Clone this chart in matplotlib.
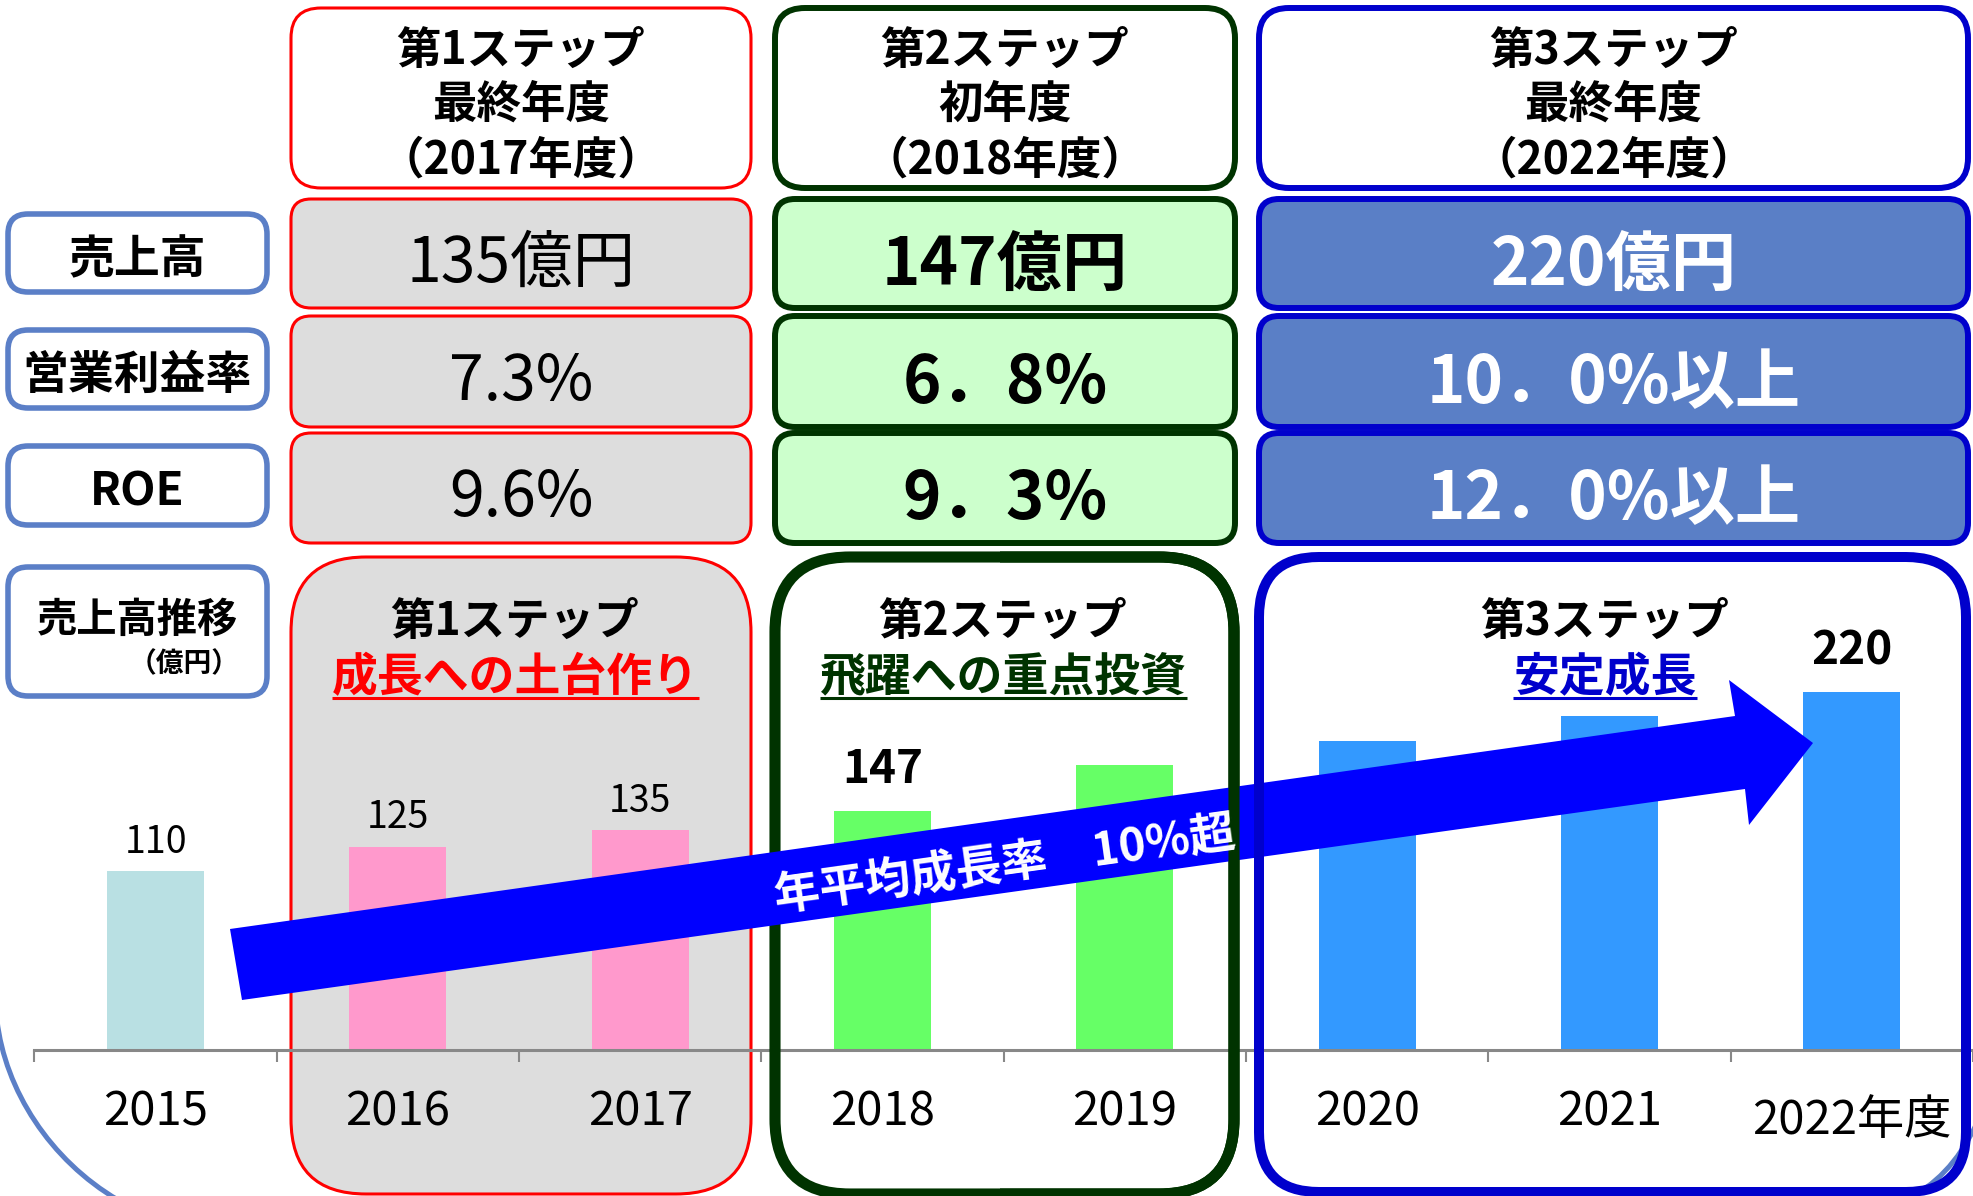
import matplotlib
matplotlib.use("Agg")
import matplotlib.pyplot as plt
from matplotlib.patches import FancyBboxPatch, Polygon, PathPatch, Rectangle
from matplotlib.path import Path
from matplotlib.transforms import blended_transform_factory

plt.rcParams['font.family'] = ['Noto Sans CJK JP', 'DejaVu Sans']

W, H = 1973, 1196

# --- data ---
years = ['2015', '2016', '2017', '2018', '2019', '2020', '2021', '2022年度']
sales = [110, 125, 135, 147, 175, 190, 205, 220]
sales_labels = ['110', '125', '135', '147', '', '', '', '220']

row_names = ['売上高', '営業利益率', 'ROE']
step_titles = [['第1ステップ', '最終年度', '（2017年度）'],
               ['第2ステップ', '初年度', '（2018年度）'],
               ['第3ステップ', '最終年度', '（2022年度）']]
step1_vals = ['135億円', '7.3%', '9.6%']
step2_vals = ['147億円', '6．8%', '9．3%']
step3_vals = ['220億円', '10．0%以上', '12．0%以上']
step_names = ['第1ステップ', '第2ステップ', '第3ステップ']
step_themes = ['成長への土台作り', '飛躍への重点投資', '安定成長']
growth_text = '年平均成長率　10%超'

# --- styles ---
bar_colors = ['#B9E0E3', '#FF99CC', '#FF99CC', '#66FF66', '#66FF66',
              '#3399FF', '#3399FF', '#3399FF']
big_years = ('2018', '2022年度')
edge_cols = ['#FF0000', '#003300', '#0000CC']
row_fills = ['#DDDDDD', '#CCFFCC', '#5A7FC6']
row_text = ['black', 'black', 'white']
label_blue = '#5B7FC7'

cols_x = [(291, 751), (775, 1235), (1259, 1968)]
rows_y = [(199, 308), (316, 427), (433, 543)]

fig = plt.figure(figsize=(W / 100, H / 100), dpi=100)

bg = fig.add_axes([0, 0, 1, 1])
bg.set_xlim(0, W)
bg.set_ylim(H, 0)
bg.axis('off')
bg.set_zorder(0)

fg = fig.add_axes([0, 0, 1, 1])
fg.set_xlim(0, W)
fg.set_ylim(H, 0)
fg.axis('off')
fg.set_zorder(2)
fg.patch.set_visible(False)


def rbox(ax, x0, x1, y0, y1, r, fc, ec, lw, z=1):
    p = FancyBboxPatch((x0, y0), x1 - x0, y1 - y0,
                       boxstyle='round,pad=0,rounding_size=%d' % r,
                       fc=fc, ec=ec, lw=lw, zorder=z)
    ax.add_patch(p)
    return p


# header and rows
hdr_lw = [2.2, 4.3, 4.3]
for c in range(3):
    x0, x1 = cols_x[c]
    rbox(bg, x0, x1, 8, 188, 30, 'white', edge_cols[c], hdr_lw[c])
    for r in range(3):
        y0, y1 = rows_y[r]
        rbox(bg, x0, x1, y0, y1, 20, row_fills[c], edge_cols[c], hdr_lw[c])

# left labels
for y0, y1 in [(214, 292), (330, 408), (446, 525), (567, 696)]:
    rbox(bg, 8, 267, y0, y1, 20, 'white', label_blue, 4)

# lower step regions
rbox(bg, 291, 751, 557, 1194, 75, '#DDDDDD', '#FF0000', 2.2)
rbox(fg, 775, 1234, 557, 1194, 75, 'none', '#003300', 8, z=1)
p2 = rbox(fg, 775, 1234, 557, 1194, 75, 'none', '#003300', 8, z=3)
p2.set_clip_path(Rectangle((1000, 0), 973, H, transform=fg.transData))
rbox(fg, 1259, 1966, 557, 1192, 60, 'none', '#0000CC', 7.2, z=3)

# decorative arcs
arc1 = Path([(-3, 1020), (5, 1090), (50, 1160), (118, 1200)],
            [Path.MOVETO, Path.CURVE4, Path.CURVE4, Path.CURVE4])
bg.add_patch(PathPatch(arc1, fc='none', ec=label_blue, lw=3.6))
arc2 = Path([(1905, 1200), (1935, 1186), (1958, 1162), (1976, 1125)],
            [Path.MOVETO, Path.CURVE4, Path.CURVE4, Path.CURVE4])
bg.add_patch(PathPatch(arc2, fc='none', ec=label_blue, lw=3.6))

# --- bar chart ---
px_per_unit = 1.627
base_y = 1050
left_x = 34.4
cat_w = 242.5
ymax = 300
axb = fig.add_axes([left_x / W, (H - base_y) / H, (W - left_x) / W,
                    ymax * px_per_unit / H])
axb.set_zorder(1)
axb.patch.set_visible(False)
xs = list(range(len(years)))
axb.bar(xs, sales, width=0.4, color=bar_colors, zorder=2)
axb.set_xlim(-0.5, (W - left_x) / cat_w - 0.5)
axb.set_ylim(0, ymax)
for s in ['top', 'right', 'left']:
    axb.spines[s].set_visible(False)
axb.spines['bottom'].set_color('#888888')
axb.spines['bottom'].set_linewidth(2.2)
axb.set_yticks([])
axb.set_xticks(xs)
axb.set_xticklabels([])
axb.tick_params(axis='x', which='major', length=0)
axb.set_xticks([i - 0.5 for i in range(len(years) + 1)], minor=True)
axb.tick_params(axis='x', which='minor', length=8.5, width=1.5,
                color='#888888')

tl = blended_transform_factory(axb.transData, fg.transData)
for i, lab in enumerate(years):
    yb = 1134 if '年' in lab else 1126
    axb.text(i, yb, lab, transform=tl, ha='center', va='baseline',
             fontsize=34, color='black', clip_on=False)

for i, (v, lab) in enumerate(zip(sales, sales_labels)):
    if not lab:
        continue
    if years[i] in big_years:
        axb.annotate(lab, (i, v), xytext=(0, 41), textcoords='offset pixels',
                     ha='center', va='center', fontsize=33, fontweight='bold')
    else:
        axb.annotate(lab, (i, v), xytext=(0, 29), textcoords='offset pixels',
                     ha='center', va='center', fontsize=27)

# --- arrow ---
arrow_pts = [(230, 929), (1735, 716), (1729, 680), (1813, 743),
             (1749, 825), (1745, 789), (242, 1000)]
fg.add_patch(Polygon(arrow_pts, closed=True, fc='#0000FF', ec='none', zorder=2))
fg.text(1005, 866, growth_text, rotation=8, rotation_mode='anchor',
        ha='center', va='center', fontsize=33, fontweight='bold',
        color='white', zorder=4)

# --- texts ---
dy = 4
hdr_y = [47, 101, 157]
for c in range(3):
    xc = sum(cols_x[c]) / 2
    for line, y in zip(step_titles[c], hdr_y):
        fg.text(xc, y + dy, line, ha='center', va='center', fontsize=32,
                fontweight='bold', zorder=5)

val_y = [260, 378, 494]
for c, vals in enumerate([step1_vals, step2_vals, step3_vals]):
    xc = sum(cols_x[c]) / 2
    for r, v in enumerate(vals):
        if c == 0:
            fg.text(xc, val_y[r] + dy, v, ha='center', va='center',
                    fontsize=45, color=row_text[c], zorder=5)
        else:
            fg.text(xc, val_y[r] + dy + 2, v, ha='center', va='center',
                    fontsize=47, fontweight='bold', color=row_text[c],
                    zorder=5)

for name, y in zip(row_names, [256, 372, 488]):
    fg.text(137, y + dy, name, ha='center', va='center', fontsize=33,
            fontweight='bold', zorder=5)
fg.text(137, 616 + dy, '売上高推移', ha='center', va='center', fontsize=29,
        fontweight='bold', zorder=5)
fg.text(240, 660 + dy, '（億円）', ha='right', va='center', fontsize=20,
        fontweight='bold', zorder=5)

step_xc = [515, 1003, 1605]
theme_texts = []
for c in range(3):
    fg.text(step_xc[c], 618 + dy, step_names[c], ha='center', va='center',
            fontsize=32, fontweight='bold', zorder=5)
    t = fg.text(step_xc[c], 674 + dy, step_themes[c], ha='center',
                va='center', fontsize=33, fontweight='bold',
                color=edge_cols[c], zorder=5)
    theme_texts.append(t)

fig.canvas.draw()
rend = fig.canvas.get_renderer()
inv = fg.transData.inverted()
for c, t in enumerate(theme_texts):
    bb = t.get_window_extent(rend)
    (xa, _), (xb, _) = inv.transform([(bb.x0, bb.y0), (bb.x1, bb.y0)])
    fg.plot([xa, xb], [698, 698], color=edge_cols[c], lw=2.2, zorder=5,
            solid_capstyle='butt')

fig.savefig('out.png', dpi=100)
